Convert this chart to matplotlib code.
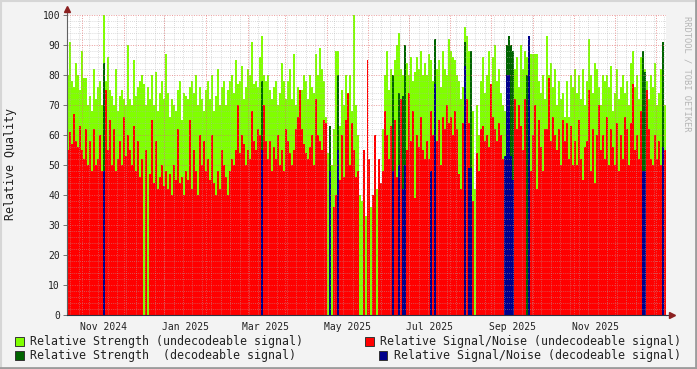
import numpy as np
import pandas as pd
import matplotlib
matplotlib.use("Agg")
import matplotlib.pyplot as plt
import matplotlib.dates as mdates
from matplotlib.patches import Rectangle
from matplotlib.lines import Line2D

# one sample per ~1.5 days, from early Oct 2024 to late Dec 2025
period_start = "2024-10-04 22:00"
period_end = "2025-12-23 14:00"

# Relative Strength (undecodeable signal)
strength_undec = [
    80, 91, 78, 76, 84, 80, 75, 88, 79, 79,
    70, 73, 68, 82, 72, 76, 78, 70, 100, 78,
    86, 75, 73, 70, 82, 68, 73, 75, 72, 70,
    90, 72, 70, 85, 73, 76, 78, 80, 77, 70,
    76, 72, 80, 70, 81, 68, 74, 78, 72, 87,
    74, 66, 72, 70, 68, 75, 78, 65, 74, 73,
    72, 76, 78, 74, 80, 70, 76, 72, 68, 75,
    78, 72, 80, 68, 73, 82, 70, 76, 78, 70,
    75, 78, 80, 74, 85, 77, 78, 83, 72, 76,
    82, 80, 91, 77, 78, 76, 86, 93, 80, 78,
    80, 75, 72, 76, 78, 70, 74, 84, 78, 72,
    78, 82, 72, 87, 70, 76, 74, 75, 80, 78,
    72, 80, 76, 74, 87, 80, 89, 82, 78, 66,
    54, 50, 50, 62, 88, 88, 63, 75, 70, 80,
    72, 80, 68, 100, 70, 60, 40, 38, 34, 33,
    32, 30, 36, 40, 42, 42, 0, 0, 62, 80,
    88, 75, 82, 80, 85, 90, 94, 82, 80, 88,
    84, 80, 86, 78, 81, 86, 82, 88, 80, 84,
    80, 87, 85, 78, 92, 82, 85, 76, 88, 82,
    80, 92, 88, 86, 85, 80, 78, 72, 76, 96,
    93, 88, 80, 68, 42, 70, 60, 78, 86, 74,
    80, 88, 76, 86, 90, 78, 82, 74, 70, 68,
    0, 0, 0, 0, 82, 86, 76, 90, 82, 88,
    86, 88, 87, 87, 87, 87, 78, 74, 80, 72,
    93, 80, 84, 76, 82, 70, 78, 72, 74, 66,
    78, 66, 80, 76, 82, 74, 80, 72, 82, 70,
    78, 92, 80, 74, 84, 82, 76, 70, 80, 78,
    80, 76, 83, 68, 74, 82, 72, 76, 80, 74,
    78, 70, 84, 88, 76, 80, 72, 86, 80, 82,
    78, 72, 80, 76, 84, 70, 74, 82, 84, 70,
]

# Relative Signal/Noise (undecodeable signal)
snr_undec = [
    55, 61, 57, 67, 58, 56, 63, 55, 52, 62,
    50, 58, 48, 62, 50, 52, 60, 48, 61, 75,
    55, 65, 50, 62, 48, 52, 58, 50, 66, 53,
    60, 55, 50, 63, 48, 58, 46, 52, 0, 55,
    0, 47, 65, 44, 58, 42, 46, 50, 43, 48,
    42, 47, 40, 50, 45, 62, 44, 46, 40, 48,
    45, 65, 42, 55, 48, 40, 60, 50, 58, 48,
    52, 45, 60, 44, 40, 48, 42, 55, 50, 46,
    40, 48, 52, 50, 55, 70, 54, 60, 57, 50,
    55, 52, 68, 58, 55, 62, 60, 55, 70, 58,
    52, 58, 48, 56, 52, 60, 50, 55, 48, 62,
    58, 54, 50, 55, 62, 66, 75, 62, 57, 54,
    52, 56, 60, 50, 72, 60, 58, 55, 65, 64,
    0, 0, 0, 36, 40, 0, 45, 60, 46, 65,
    74, 50, 64, 55, 46, 48, 0, 0, 55, 0,
    85, 52, 0, 40, 60, 0, 52, 44, 48, 68,
    60, 52, 63, 0, 65, 46, 60, 72, 48, 63,
    55, 74, 58, 68, 39, 60, 56, 66, 55, 52,
    58, 52, 68, 60, 0, 58, 65, 50, 66, 62,
    70, 64, 66, 60, 68, 62, 47, 42, 64, 0,
    72, 64, 78, 38, 0, 54, 48, 62, 63, 58,
    60, 56, 77, 66, 62, 58, 64, 60, 52, 45,
    0, 0, 0, 0, 72, 62, 70, 63, 55, 72,
    0, 0, 48, 60, 70, 42, 65, 56, 48, 62,
    62, 79, 58, 66, 60, 55, 62, 50, 65, 58,
    64, 52, 63, 50, 58, 50, 65, 52, 45, 56,
    58, 75, 48, 62, 44, 60, 70, 55, 60, 52,
    66, 50, 62, 56, 50, 64, 48, 60, 52, 66,
    62, 50, 64, 77, 55, 60, 52, 68, 0, 72,
    75, 62, 52, 50, 60, 52, 58, 50, 0, 55,
]

# Relative Strength (decodeable signal)
strength_dec = [
    0, 0, 0, 0, 0, 0, 0, 0, 0, 0,
    0, 0, 0, 0, 0, 0, 0, 0, 84, 0,
    0, 0, 0, 0, 0, 0, 0, 0, 0, 0,
    0, 0, 0, 0, 0, 0, 0, 0, 0, 0,
    0, 0, 0, 0, 0, 0, 0, 0, 0, 0,
    0, 0, 0, 0, 0, 0, 0, 0, 0, 0,
    0, 0, 0, 0, 0, 0, 0, 0, 0, 0,
    0, 0, 0, 0, 0, 0, 0, 0, 0, 0,
    0, 0, 0, 0, 0, 0, 0, 0, 0, 0,
    0, 0, 0, 0, 0, 0, 0, 78, 0, 0,
    0, 0, 0, 0, 0, 0, 0, 0, 0, 0,
    0, 0, 0, 0, 0, 0, 0, 0, 0, 0,
    0, 0, 0, 0, 0, 0, 0, 0, 0, 0,
    0, 63, 0, 0, 0, 80, 0, 0, 0, 0,
    0, 0, 0, 0, 0, 0, 0, 0, 0, 0,
    0, 0, 0, 0, 0, 0, 0, 0, 0, 0,
    0, 0, 0, 80, 0, 0, 74, 0, 73, 90,
    0, 0, 0, 0, 0, 0, 0, 0, 0, 0,
    0, 0, 0, 0, 92, 0, 0, 0, 0, 0,
    0, 0, 0, 0, 0, 0, 0, 0, 0, 91,
    0, 0, 88, 0, 0, 0, 0, 0, 0, 0,
    0, 0, 0, 0, 0, 0, 0, 0, 0, 0,
    90, 93, 90, 88, 0, 0, 0, 0, 0, 0,
    80, 0, 0, 0, 0, 0, 0, 0, 0, 0,
    0, 0, 0, 0, 0, 0, 0, 0, 0, 0,
    0, 0, 0, 0, 0, 0, 0, 0, 0, 0,
    0, 0, 0, 0, 0, 0, 0, 0, 0, 0,
    0, 0, 0, 0, 0, 0, 0, 0, 0, 0,
    0, 0, 0, 0, 0, 0, 0, 0, 88, 81,
    0, 0, 0, 0, 0, 0, 0, 0, 91, 0,
]

# Relative Signal/Noise (decodeable signal)
snr_dec = [
    0, 0, 0, 0, 0, 0, 0, 0, 0, 0,
    0, 0, 0, 0, 0, 0, 0, 0, 48, 0,
    0, 0, 0, 0, 0, 0, 0, 0, 0, 0,
    0, 0, 0, 0, 0, 0, 0, 0, 0, 0,
    0, 0, 0, 0, 0, 0, 0, 0, 0, 0,
    0, 0, 0, 0, 0, 0, 0, 0, 0, 0,
    0, 0, 0, 0, 0, 0, 0, 0, 0, 0,
    0, 0, 0, 0, 0, 0, 0, 0, 0, 0,
    0, 0, 0, 0, 0, 0, 0, 0, 0, 0,
    0, 0, 0, 0, 0, 0, 0, 55, 0, 0,
    0, 0, 0, 0, 0, 0, 0, 0, 0, 0,
    0, 0, 0, 0, 0, 0, 0, 0, 0, 0,
    0, 0, 0, 0, 0, 0, 0, 0, 0, 0,
    0, 48, 0, 0, 0, 55, 0, 0, 0, 0,
    0, 0, 0, 0, 0, 0, 0, 0, 0, 0,
    0, 0, 0, 0, 0, 0, 0, 0, 0, 0,
    0, 0, 0, 48, 0, 0, 50, 0, 42, 50,
    0, 0, 0, 0, 0, 0, 0, 0, 0, 0,
    0, 0, 48, 0, 77, 0, 0, 0, 0, 0,
    0, 0, 0, 0, 0, 0, 0, 0, 0, 83,
    0, 49, 49, 0, 0, 0, 0, 0, 0, 0,
    0, 0, 0, 0, 0, 0, 0, 0, 0, 53,
    80, 80, 53, 45, 0, 0, 0, 0, 0, 0,
    0, 93, 0, 0, 0, 0, 0, 0, 0, 0,
    0, 0, 0, 0, 0, 0, 0, 0, 0, 0,
    0, 0, 0, 0, 0, 0, 0, 0, 0, 0,
    0, 0, 0, 0, 0, 0, 0, 0, 0, 0,
    0, 0, 0, 0, 0, 0, 0, 0, 0, 0,
    0, 0, 0, 0, 0, 0, 0, 0, 48, 48,
    0, 0, 0, 0, 0, 0, 0, 0, 56, 0,
]

legend_labels = [
    "Relative Strength (undecodeable signal)",
    "Relative Strength  (decodeable signal)",
    "Relative Signal/Noise (undecodeable signal)",
    "Relative Signal/Noise (decodeable signal)",
]

C_GREEN = "#80ff00"
C_RED = "#ff0000"
C_DGREEN = "#006400"
C_BLUE = "#00008b"
MONO = "DejaVu Sans Mono"
W, H = 697, 369

fig = plt.figure(figsize=(W / 100, H / 100), dpi=100, facecolor="#f3f3f3")
ax = fig.add_axes([67 / W, 54 / H, 599 / W, 300 / H])
ax.set_facecolor("white")

t0 = mdates.date2num(pd.Timestamp(period_start))
t1 = mdates.date2num(pd.Timestamp(period_end))
edges = np.linspace(t0, t1, len(strength_undec) + 1)

ax.stairs(strength_undec, edges, fill=True, color=C_GREEN, zorder=2)
ax.stairs(snr_undec, edges, fill=True, color=C_RED, zorder=3)
ax.stairs(strength_dec, edges, fill=True, color=C_DGREEN, zorder=4)
ax.stairs(snr_dec, edges, fill=True, color=C_BLUE, zorder=5)

ax.set_xlim(t0, t1)
ax.set_ylim(0, 100)

# grid (drawn on top, like rrdtool)
dots = (0, (1, 1.5))
weeks = mdates.date2num(pd.date_range("2024-10-07", "2025-12-22", freq="W-MON"))
months = mdates.date2num(pd.date_range("2024-10-01", "2025-12-01", freq="MS") + pd.Timedelta(days=15))
for d in weeks:
    ax.axvline(d, color="#b0b0b0", lw=0.6, ls=dots, alpha=0.6, zorder=6)
for y in range(2, 100, 2):
    if y % 10:
        ax.axhline(y, color="#b0b0b0", lw=0.6, ls=dots, alpha=0.6, zorder=6)
for d in months:
    ax.axvline(d, color="#e07070", lw=0.7, ls=dots, alpha=0.7, zorder=7)
for y in range(10, 101, 10):
    ax.axhline(y, color="#e07070", lw=0.7, ls=dots, alpha=0.7, zorder=7)

for s in ["top", "right"]:
    ax.spines[s].set_visible(False)
ax.spines["left"].set_color("#606060")
ax.spines["bottom"].set_color("#303040")
ax.spines["left"].set_zorder(8)
ax.spines["bottom"].set_zorder(8)

# axis arrows
arrow_c = "#8b2020"
ax.plot([1.0, 1.008], [0, 0], transform=ax.transAxes, color="#303040", lw=0.8, clip_on=False)
ax.plot([1.01], [0], transform=ax.transAxes, marker=">", color=arrow_c, ms=4, clip_on=False)
ax.plot([0, 0], [1.0, 1.012], transform=ax.transAxes, color="#606060", lw=0.8, clip_on=False)
ax.plot([0], [1.02], transform=ax.transAxes, marker="^", color=arrow_c, ms=4, clip_on=False)

ax.set_yticks(range(0, 101, 10))
ax.tick_params(axis="y", length=3, width=0.6, color="#606060", pad=2, labelsize=7)
label_dates = pd.date_range("2024-11-01", "2025-11-01", freq="2MS")
ax.set_xticks(mdates.date2num(label_dates))
ax.set_xticklabels([d.strftime("%b %Y") for d in label_dates])
ax.tick_params(axis="x", length=0, pad=5, labelsize=7)
for lab in ax.get_xticklabels() + ax.get_yticklabels():
    lab.set_family(MONO)
    lab.set_color("#222222")

fig.text(11 / W, 1 - 164 / H, "Relative Quality", rotation=90, ha="center", va="center",
         family=MONO, fontsize=8.4, color="#222222")
fig.text(687 / W, 1 - 74 / H, "RRDTOOL / TOBI OETIKER", rotation=270, ha="center", va="center",
         family=MONO, fontsize=6.3, color="#b5b5b5")

# legend
legend_pos = [(15, 341), (15, 355), (365, 341), (379, 355)]
legend_cols = [C_GREEN, C_DGREEN, C_RED, C_BLUE]
for (x, y), col, lab in zip(legend_pos, legend_cols, legend_labels):
    fig.add_artist(Rectangle((x / W, 1 - (y + 4.5) / H), 8.5 / W, 8.5 / H, transform=fig.transFigure,
                             facecolor=col, edgecolor="#333333", lw=0.7))
    fig.text((x + 15) / W, 1 - y / H, lab, ha="left", va="center", family=MONO,
             fontsize=8.4, color="#222222")

# frame around the image
fig.add_artist(Line2D([0, 1], [1 - 0.5 / H, 1 - 0.5 / H], color="#d6d6d6", lw=1.5))
fig.add_artist(Line2D([0.5 / W, 0.5 / W], [0, 1], color="#d6d6d6", lw=1.5))
fig.add_artist(Line2D([0, 1], [1 / H, 1 / H], color="#9c9c9c", lw=2))
fig.add_artist(Line2D([1 - 1 / W, 1 - 1 / W], [0, 1], color="#9c9c9c", lw=2))

fig.savefig("out.png", dpi=100, facecolor=fig.get_facecolor())
